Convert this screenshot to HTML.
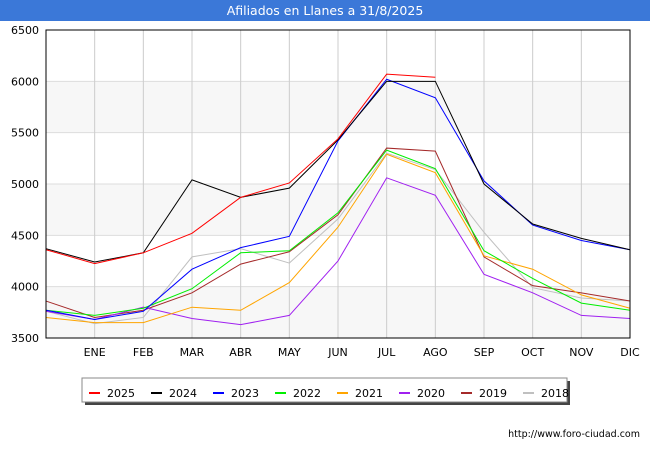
<!DOCTYPE html>
<html><head><meta charset="utf-8"><style>
body{margin:0;background:#fff;font-family:"DejaVu Sans","Liberation Sans",sans-serif}
</style></head><body>
<svg id="c" width="650" height="450" xmlns="http://www.w3.org/2000/svg" font-family="DejaVu Sans, Liberation Sans, sans-serif">
<rect x="0" y="0" width="650" height="21" fill="#3b78d8"/>
<text x="325" y="15" fill="#fff" font-size="12.5" text-anchor="middle">Afiliados en Llanes a 31/8/2025</text>
<g id="grid"></g><g id="lines"></g><g id="axes"></g>
<rect x="46" y="30" width="584" height="308" fill="none" stroke="#000" stroke-width="1"/>
<g>
<rect x="85" y="381" width="485" height="24" fill="#444"/>
<rect x="82" y="378" width="485" height="24" fill="#fff" stroke="#888"/>
<g id="leg"></g></g>
<text x="640" y="437" font-size="9.5" text-anchor="end" fill="#000">http://www.foro-ciudad.com</text>
</svg>
<script>
const months=["","ENE","FEB","MAR","ABR","MAY","JUN","JUL","AGO","SEP","OCT","NOV","DIC"];
const yTicks=[3500,4000,4500,5000,5500,6000,6500];
const years=["2025","2024","2023","2022","2021","2020","2019","2018"];
const colors=["#ff0000","#000000","#0000ff","#00ee00","#ffa500","#a020f0","#a52a2a","#c0c0c0"];
const s2025=[4360,4225,4330,4520,4870,5010,5440,6070,6040];
const s2024=[4370,4240,4330,5040,4870,4960,5430,6000,6000,5000,4610,4470,4360];
const s2023=[3770,3680,3760,4170,4380,4490,5420,6020,5840,5030,4600,4450,4360];
const s2022=[3770,3720,3790,3980,4330,4350,4720,5330,5150,4350,4080,3840,3770];
const s2021=[3700,3650,3650,3800,3770,4040,4580,5290,5110,4300,4170,3920,3790];
const s2020=[3760,3680,3800,3690,3630,3720,4250,5060,4890,4120,3940,3720,3690];
const s2019=[3860,3700,3770,3940,4220,4340,4700,5350,5320,4290,4010,3940,3860];
const s2018=[3760,3640,3700,4290,4370,4230,4660,5300,5140,4530,3990,3890,3860];
const series=[s2025,s2024,s2023,s2022,s2021,s2020,s2019,s2018];
const X0=46,X1=630,Y0=338,Y1=30;
const xS=i=>X0+i*(X1-X0)/12;
const yS=v=>Y0-(v-3500)*(Y0-Y1)/3000;
const NS="http://www.w3.org/2000/svg";
function mk(t,a,p){const e=document.createElementNS(NS,t);for(const k in a)e.setAttribute(k,a[k]);p.appendChild(e);return e;}
const grid=document.getElementById('grid'),axes=document.getElementById('axes'),lines=document.getElementById('lines');
for(let k=0;k<yTicks.length-1;k++){if(k%2==0){const b=mk('rect',{x:X0,y:yS(yTicks[k+1]),width:X1-X0,height:yS(yTicks[k])-yS(yTicks[k+1]),fill:'#f7f7f7'},grid);}}
yTicks.forEach(v=>{const l=mk('line',{x1:X0,x2:X1,y1:yS(v),y2:yS(v),stroke:'#ddd'},grid);
const t=mk('text',{x:X0-7,y:yS(v)+4,'font-size':11,'text-anchor':'end'},axes);t.textContent=v;});
months.forEach((m,i)=>{if(i==0)return;const l=mk('line',{x1:xS(i),x2:xS(i),y1:Y1,y2:Y0,stroke:'#ccc'},grid);
const t=mk('text',{x:xS(i),y:356,'font-size':11,'text-anchor':'middle'},axes);t.textContent=m;});
for(let s=series.length-1;s>=0;s--){const p=mk('polyline',{points:series[s].map((v,i)=>xS(i)+','+yS(v)).join(' '),fill:'none',stroke:colors[s],'stroke-width':1},lines);}
const leg=document.getElementById('leg');
years.forEach((y,i)=>{const x=89+i*62;const l=mk('line',{x1:x,x2:x+11,y1:393,y2:393,stroke:colors[i],'stroke-width':2},leg);
const t=mk('text',{x:x+18,y:397,'font-size':11},leg);t.textContent=y;});
</script>
</body></html>
